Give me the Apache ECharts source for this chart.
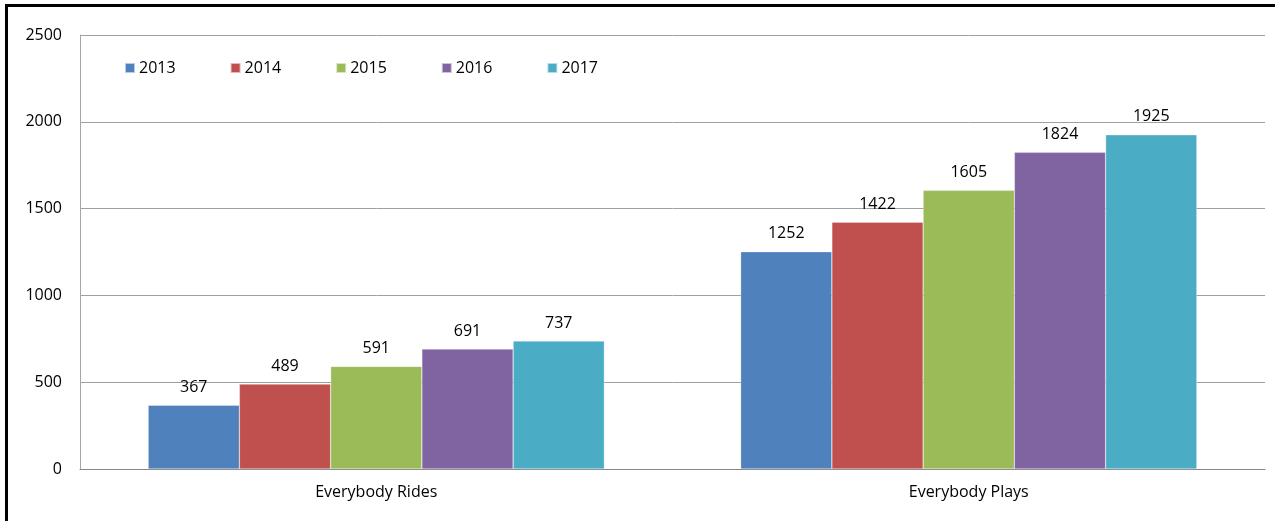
<!DOCTYPE html>
<html>
<head>
<meta charset="utf-8">
<script src="https://cdn.jsdelivr.net/npm/echarts@6/dist/echarts.min.js"></script>
<style>
  html, body { margin: 0; padding: 0; background: #fff; }
  #wrap {
    position: absolute;
    left: 5px;
    top: 4px;
    width: 1270px;
    height: 517px;
    border-left: 3px solid #000;
    border-top: 3px solid #000;
  }
  #chart { position: absolute; left: -8px; top: -7px; width: 1275px; height: 521px; }
</style>
</head>
<body>
<div id="wrap"><div id="chart"></div></div>
<script>
// categories and values
const categories = ['Everybody Rides', 'Everybody Plays']
const years = ['2013', '2014', '2015', '2016', '2017']
const v2013 = [367, 1252]
const v2014 = [489, 1422]
const v2015 = [591, 1605]
const v2016 = [691, 1824]
const v2017 = [737, 1925]
const colors = ['#4F81BD', '#C0504D', '#9BBB59', '#8064A2', '#4BACC6']

const allValues = [v2013, v2014, v2015, v2016, v2017]
const font = '"Open Sans", "Noto Sans", sans-serif'

const chart = echarts.init(document.getElementById('chart'))

const series = years.map((y, i) => ({
  name: y,
  type: 'bar',
  data: allValues[i],
  barGap: '0%',
  barCategoryGap: '23%',
  itemStyle: { color: colors[i], borderColor: 'rgba(255,255,255,0.6)', borderWidth: 0.5 },
  label: {
    show: true,
    position: 'top',
    distance: 10,
    color: '#000',
    fontFamily: font,
    fontSize: 16
  }
}))

chart.setOption({
  animation: false,
  backgroundColor: 'transparent',
  color: colors,
  legend: {
    left: 119,
    top: 55,
    icon: 'rect',
    itemWidth: 10,
    itemHeight: 10,
    itemGap: 54,
    textStyle: { color: '#000', fontFamily: font, fontSize: 16, padding: [0, 0, 0, -1] },
    data: years
  },
  grid: {
    left: 80,
    right: 10,
    top: 35,
    bottom: 52,
    containLabel: false
  },
  xAxis: {
    type: 'category',
    data: categories,
    axisLine: { lineStyle: { color: '#868686', width: 1 } },
    axisTick: { show: false },
    axisLabel: { color: '#000', fontFamily: font, fontSize: 16, margin: 15 }
  },
  yAxis: {
    type: 'value',
    min: 0,
    max: 2500,
    interval: 500,
    axisLine: { show: true, lineStyle: { color: '#a6a6a6' } },
    axisTick: { show: false },
    splitLine: { lineStyle: { color: '#a0a0a0', width: 1 } },
    axisLabel: { color: '#000', fontFamily: font, fontSize: 16, margin: 18, formatter: v => String(v) }
  },
  series
})
</script>
</body>
</html>
